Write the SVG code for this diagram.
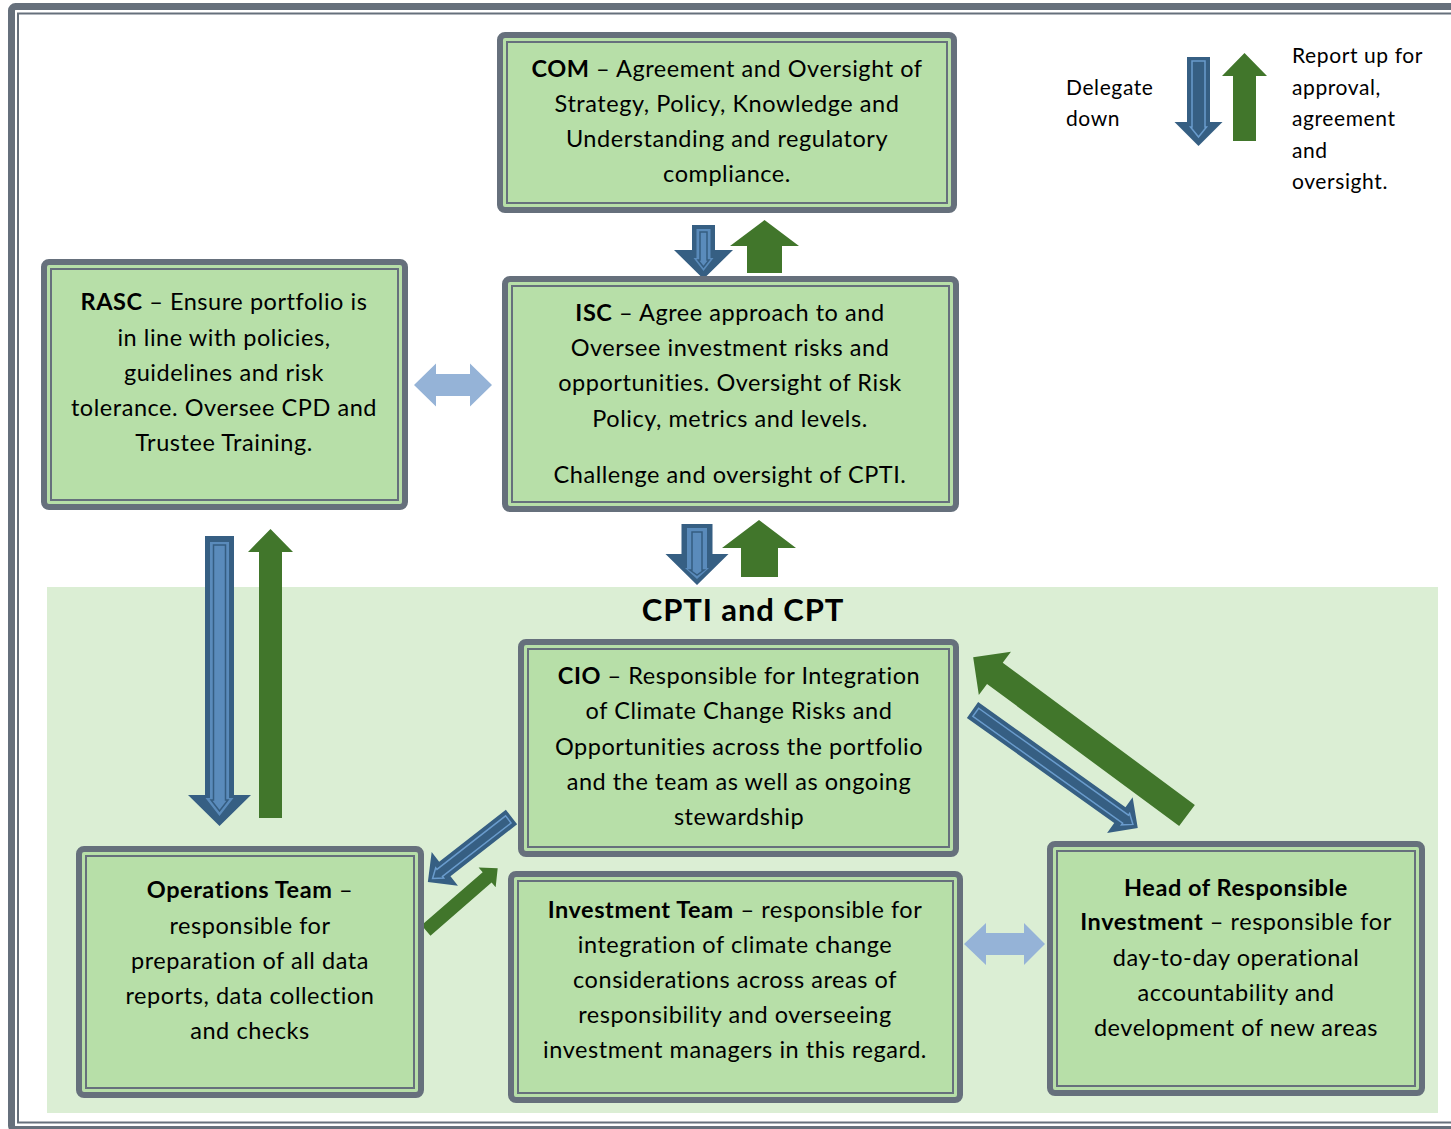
<svg xmlns="http://www.w3.org/2000/svg" width="1451" height="1129" viewBox="0 0 1451 1129">
  <defs>
    <style>
      .frame { fill: none; stroke: #66707c; }
      .box { fill: #b7dfa8; stroke: #66707c; stroke-width: 6; }
      .inner { fill: none; stroke: #66707c; stroke-width: 2; }
      .t { font-family: Lato, "Liberation Sans", sans-serif; font-size: 23.5px; letter-spacing: 0.55px; fill: #000; text-anchor: middle; }
      .b { font-weight: bold; }
      .leg { font-family: Lato, "Liberation Sans", sans-serif; font-size: 21px; letter-spacing: 0.6px; fill: #000; }
      .dn { fill: #365f83; }
      .dnFill { fill: #5a8bbb; }
      .dnLine { fill: #5a8bbb; stroke: #355d81; stroke-width: 1.5; }
      .dnThin { fill: none; stroke: #6a9ccd; stroke-width: 1.5; }
      .up { fill: #41762b; }
      .both { fill: #95b3d7; }
    </style>
  </defs>

  <rect width="1451" height="1129" fill="#ffffff"/>

  <!-- page frame: heavy outer rule plus thin inner rule -->
  <rect class="frame" x="11.5" y="6.5" width="1500" height="1123" rx="4" stroke-width="7"/>
  <rect class="frame" x="18" y="13.5" width="1500" height="1109" stroke-width="2" stroke="#7a838e"/>

  <!-- shaded CPTI / CPT area -->
  <rect id="cpti-area" x="47" y="587" width="1391" height="526" fill="#dbeed4"/>
  <text class="t b" x="743" y="621" style="font-size:31px;letter-spacing:0.9px">CPTI and CPT</text>

  <!-- legend -->
  <g id="legend">
    <text class="leg" x="1066" y="95">Delegate</text>
    <text class="leg" x="1066" y="126">down</text>
    <text class="leg" x="1292" y="63">Report up for</text>
    <text class="leg" x="1292" y="95">approval,</text>
    <text class="leg" x="1292" y="126">agreement</text>
    <text class="leg" x="1292" y="158">and</text>
    <text class="leg" x="1292" y="189">oversight.</text>
    <g transform="translate(1198.5,57) rotate(90)">
      <path class="dn" d="M0,-11.5 L65,-11.5 L65,-24 L89,0 L65,24 L65,11.5 L0,11.5Z"/>
      <path class="dnThin" d="M4,-6.5 L70,-6.5 L70,-8 L80,0 L70,8 L70,6.5 L4,6.5Z"/>
    </g>
    <path class="up" d="M1244.5,53 L1267,76 L1256,76 L1256,141 L1233,141 L1233,76 L1222,76Z"/>
  </g>

  <!-- connectors -->
  <g id="connectors">
    <!-- COM <-> ISC -->
    <g transform="translate(703.5,225) rotate(90)">
      <path class="dn" d="M0,-11.5 L25,-11.5 L25,-29.5 L54,0 L25,29.5 L25,11.5 L0,11.5Z"/>
      <path class="dnFill" d="M4,-7 L33,-7 L33,-10 L46,0 L33,10 L33,7 L4,7Z"/>
      <path class="dnLine" d="M7,-3.5 L35,-3.5 L35,-5.5 L42,0 L35,5.5 L35,3.5 L7,3.5Z"/>
    </g>
    <path class="up" d="M764.5,220 L799,246 L782,246 L782,273 L747,273 L747,246 L730,246Z"/>

    <!-- ISC <-> CPTI and CPT -->
    <g transform="translate(697,524) rotate(90)">
      <path class="dn" d="M0,-15.5 L30,-15.5 L30,-31.5 L61,0 L30,31.5 L30,15.5 L0,15.5Z"/>
      <path class="dnFill" d="M4,-10 L44,-10 L44,-12 L55,0 L44,12 L44,10 L4,10Z"/>
      <path class="dnLine" d="M8,-5 L46,-5 L46,-7 L51,0 L46,7 L46,5 L8,5Z"/>
    </g>
    <path class="up" d="M759,520 L796,548 L778,548 L778,577 L741,577 L741,548 L722,548Z"/>

    <!-- RASC <-> Operations Team -->
    <g transform="translate(219.5,536) rotate(90)">
      <path class="dn" d="M0,-14.5 L259,-14.5 L259,-31.5 L290,0 L259,31.5 L259,14.5 L0,14.5Z"/>
      <path class="dnFill" d="M6,-9.5 L262,-9.5 L262,-14 L280,0 L262,14 L262,9.5 L6,9.5Z"/>
      <path class="dnLine" d="M9,-6 L264,-6 L264,-8.5 L275,0 L264,8.5 L264,6 L9,6Z"/>
    </g>
    <path class="up" d="M270.5,529 L293,552 L282,552 L282,818 L259,818 L259,552 L248,552Z"/>

    <!-- RASC <-> ISC -->
    <path class="both" d="M414,385 L436,363.5 L436,374 L470,374 L470,363.5 L492,385 L470,406.5 L470,396 L436,396 L436,406.5Z"/>

    <!-- CIO -> Head of Responsible Investment -->
    <g transform="translate(972.5,710) rotate(35.5)">
      <path class="dn" d="M0,-9.7 L181,-9.7 L181,-22 L203,0 L181,22 L181,9.7 L0,9.7Z"/>
      <path class="dnThin" d="M4,-5 L188,-5 L188,-7 L197,0 L188,7 L188,5 L4,5Z"/>
    </g>
    <!-- Head of Responsible Investment -> CIO -->
    <g transform="translate(1187,815.5) rotate(-143.5)">
      <path class="up" d="M0,-13.2 L239,-13.2 L239,-27 L266,0 L239,27 L239,13.2 L0,13.2Z"/>
    </g>

    <!-- CIO -> Operations Team -->
    <g transform="translate(511.5,817) rotate(142.1)">
      <path class="dn" d="M0,-9.2 L84.5,-9.2 L84.5,-21.4 L106,0 L84.5,21.4 L84.5,9.2 L0,9.2Z"/>
      <path class="dnThin" d="M4,-4.5 L91,-4.5 L91,-6.5 L100,0 L91,6.5 L91,4.5 L4,4.5Z"/>
    </g>
    <!-- Operations Team -> CIO -->
    <g transform="translate(426,930.5) rotate(-41)">
      <path class="up" d="M0,-6.8 L81,-6.8 L81,-13 L95,0 L81,13 L81,6.8 L0,6.8Z"/>
    </g>

    <!-- Investment Team <-> Head of Responsible Investment -->
    <path class="both" d="M964,944 L986,923 L986,933 L1024,933 L1024,923 L1045,944 L1024,965 L1024,955 L986,955 L986,965Z"/>
  </g>

  <!-- nodes -->
  <g id="com">
    <rect class="box" x="500" y="35" width="454" height="175" rx="5"/>
    <rect class="inner" x="507" y="42" width="440" height="161"/>
    <text class="t" x="727" y="77"><tspan class="b">COM</tspan> – Agreement and Oversight of</text>
    <text class="t" x="727" y="112">Strategy, Policy, Knowledge and</text>
    <text class="t" x="727" y="147">Understanding and regulatory</text>
    <text class="t" x="727" y="182">compliance.</text>
  </g>

  <g id="isc">
    <rect class="box" x="505" y="279" width="451" height="230" rx="5"/>
    <rect class="inner" x="512" y="286" width="437" height="216"/>
    <text class="t" x="730" y="321"><tspan class="b">ISC</tspan> – Agree approach to and</text>
    <text class="t" x="730" y="356">Oversee investment risks and</text>
    <text class="t" x="730" y="391">opportunities. Oversight of Risk</text>
    <text class="t" x="730" y="427">Policy, metrics and levels.</text>
    <text class="t" x="730" y="483">Challenge and oversight of CPTI.</text>
  </g>

  <g id="rasc">
    <rect class="box" x="44" y="262" width="361" height="245" rx="5"/>
    <rect class="inner" x="51" y="269" width="347" height="231"/>
    <text class="t" x="224" y="310"><tspan class="b">RASC</tspan> – Ensure portfolio is</text>
    <text class="t" x="224" y="346">in line with policies,</text>
    <text class="t" x="224" y="381">guidelines and risk</text>
    <text class="t" x="224" y="416">tolerance. Oversee CPD and</text>
    <text class="t" x="224" y="451">Trustee Training.</text>
  </g>

  <g id="cio">
    <rect class="box" x="521" y="642" width="435" height="212" rx="5"/>
    <rect class="inner" x="528" y="649" width="421" height="198"/>
    <text class="t" x="739" y="684"><tspan class="b">CIO</tspan> – Responsible for Integration</text>
    <text class="t" x="739" y="719">of Climate Change Risks and</text>
    <text class="t" x="739" y="755">Opportunities across the portfolio</text>
    <text class="t" x="739" y="790">and the team as well as ongoing</text>
    <text class="t" x="739" y="825">stewardship</text>
  </g>

  <g id="operations-team">
    <rect class="box" x="79" y="849" width="342" height="246" rx="5"/>
    <rect class="inner" x="86" y="856" width="328" height="232"/>
    <text class="t" x="250" y="898"><tspan class="b">Operations Team</tspan> –</text>
    <text class="t" x="250" y="934">responsible for</text>
    <text class="t" x="250" y="969">preparation of all data</text>
    <text class="t" x="250" y="1004">reports, data collection</text>
    <text class="t" x="250" y="1039">and checks</text>
  </g>

  <g id="investment-team">
    <rect class="box" x="511" y="874" width="449" height="226" rx="5"/>
    <rect class="inner" x="518" y="881" width="435" height="212"/>
    <text class="t" x="735" y="918"><tspan class="b">Investment Team</tspan> – responsible for</text>
    <text class="t" x="735" y="953">integration of climate change</text>
    <text class="t" x="735" y="988">considerations across areas of</text>
    <text class="t" x="735" y="1023">responsibility and overseeing</text>
    <text class="t" x="735" y="1058">investment managers in this regard.</text>
  </g>

  <g id="head-of-ri">
    <rect class="box" x="1050" y="844" width="372" height="249" rx="5"/>
    <rect class="inner" x="1057" y="851" width="358" height="235"/>
    <text class="t b" x="1236" y="896">Head of Responsible</text>
    <text class="t" x="1236" y="930"><tspan class="b">Investment</tspan> – responsible for</text>
    <text class="t" x="1236" y="966">day-to-day operational</text>
    <text class="t" x="1236" y="1001">accountability and</text>
    <text class="t" x="1236" y="1036">development of new areas</text>
  </g>
</svg>
